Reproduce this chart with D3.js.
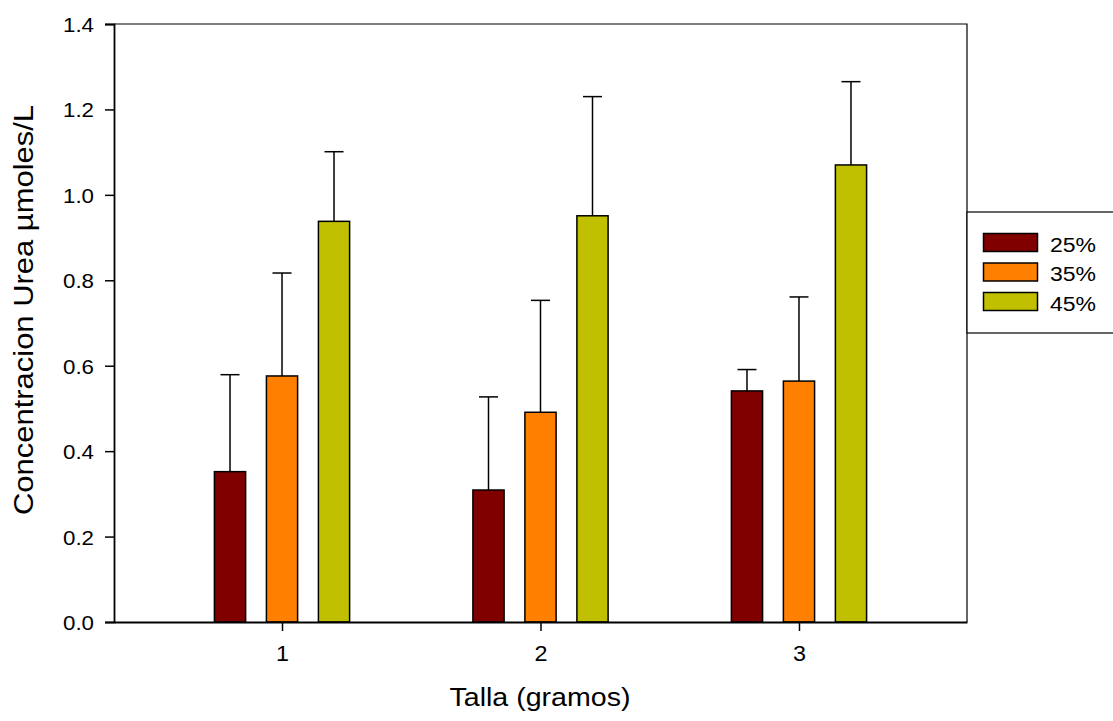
<!DOCTYPE html>
<html>
<head>
<meta charset="utf-8">
<script src="https://cdn.jsdelivr.net/npm/d3@7"></script>
<style>
  html, body { margin: 0; padding: 0; background: #fff; }
  svg { display: block; font-family: "Liberation Sans", Arial, sans-serif; }
  svg text { font-family: "Liberation Sans", Arial, sans-serif; fill: #000; }
</style>
</head>
<body>
<svg id="chart" width="1113" height="721"></svg>
<script>
// Body size groups (grams) and protein levels
const categories = [1, 2, 3];
const seriesNames = ["25%", "35%", "45%"];
const seriesColors = ["#800000", "#ff8000", "#c0c000"];

// Mean urea concentration per protein level, one value per size group
const mean25 = [0.352, 0.309, 0.541];
const mean35 = [0.576, 0.491, 0.564];
const mean45 = [0.938, 0.951, 1.070];

// Standard deviation (drawn upward only)
const sd25 = [0.227, 0.218, 0.050];
const sd35 = [0.241, 0.262, 0.197];
const sd45 = [0.163, 0.279, 0.195];

const yTicks = [0.0, 0.2, 0.4, 0.6, 0.8, 1.0, 1.2, 1.4];

const means = [mean25, mean35, mean45];
const sds = [sd25, sd35, sd45];

const svg = d3.select("#chart");
const plotLeft = 114, plotRight = 967, plotTop = 24, plotBottom = 622;

const x = d3.scaleLinear().domain([0.35, 3.65]).range([plotLeft, plotRight]);
const y = d3.scaleLinear().domain([0, 1.4]).range([plotBottom, plotTop]);
const inner = d3.scaleBand().domain(seriesNames).range([-78, 78])
  .paddingInner(0.4).paddingOuter(0.2);

// Frame (top and right sides)
svg.append("path")
  .attr("d", `M${plotLeft},${plotTop}H${plotRight}V${plotBottom}`)
  .attr("fill", "none").attr("stroke", "#000").attr("stroke-width", 1.2);

// Bars and error bars
const data = [];
seriesNames.forEach((s, si) => {
  categories.forEach((c, ci) => {
    data.push({ s, si, c, v: means[si][ci], e: sds[si][ci] });
  });
});

const capHalf = 9.5;
const g = svg.append("g");
data.forEach(d => {
  const cx = x(d.c) + inner(d.s) + inner.bandwidth() / 2;
  g.append("line")
    .attr("x1", cx).attr("x2", cx)
    .attr("y1", y(d.v)).attr("y2", y(d.v + d.e))
    .attr("stroke", "#000").attr("stroke-width", 1.5);
  g.append("line")
    .attr("x1", cx - capHalf).attr("x2", cx + capHalf)
    .attr("y1", y(d.v + d.e)).attr("y2", y(d.v + d.e))
    .attr("stroke", "#000").attr("stroke-width", 1.5);
  g.append("rect")
    .attr("x", x(d.c) + inner(d.s))
    .attr("y", y(d.v))
    .attr("width", inner.bandwidth())
    .attr("height", y(0) - y(d.v))
    .attr("fill", seriesColors[d.si])
    .attr("stroke", "#000").attr("stroke-width", 1.5);
});

// Y axis
const yAxis = svg.append("g")
  .attr("transform", `translate(${plotLeft},0)`)
  .call(d3.axisLeft(y).tickValues(yTicks).tickFormat(d3.format(".1f"))
    .tickSize(9).tickPadding(11));
yAxis.select(".domain").attr("stroke-width", 1.8);
yAxis.selectAll(".tick line").attr("stroke-width", 1.5);
yAxis.selectAll("text").style("font-size", "21px").attr("dy", "0.36em")
  .attr("textLength", 31).attr("lengthAdjust", "spacingAndGlyphs");

// X axis
const xAxis = svg.append("g")
  .attr("transform", `translate(0,${plotBottom})`)
  .call(d3.axisBottom(x).tickValues(categories).tickFormat(d3.format("d"))
    .tickSize(9).tickPadding(14).tickSizeOuter(0));
xAxis.select(".domain").attr("stroke-width", 1.8);
xAxis.selectAll(".tick line").attr("stroke-width", 1.5);
xAxis.selectAll("text").style("font-size", "22px")
  .attr("textLength", 13).attr("lengthAdjust", "spacingAndGlyphs");

// Axis titles
svg.append("text")
  .attr("x", 540).attr("y", 706)
  .attr("text-anchor", "middle")
  .style("font-size", "25px")
  .attr("textLength", 181).attr("lengthAdjust", "spacingAndGlyphs")
  .text("Talla (gramos)");

svg.append("text")
  .attr("transform", "translate(33,310) rotate(-90)")
  .attr("text-anchor", "middle")
  .style("font-size", "27px")
  .attr("textLength", 410).attr("lengthAdjust", "spacingAndGlyphs")
  .text("Concentracion Urea µmoles/L");

// Legend
const legend = svg.append("g");
legend.append("rect")
  .attr("x", 967).attr("y", 212).attr("width", 200).attr("height", 121)
  .attr("fill", "#fff").attr("stroke", "#000").attr("stroke-width", 1.2);
seriesNames.forEach((s, i) => {
  const ly = 233.5 + i * 29.5;
  legend.append("rect")
    .attr("x", 983.5).attr("y", ly).attr("width", 54).attr("height", 18)
    .attr("fill", seriesColors[i]).attr("stroke", "#000").attr("stroke-width", 1.5);
  legend.append("text")
    .attr("x", 1050).attr("y", ly + 18)
    .style("font-size", "20px")
    .attr("textLength", 46).attr("lengthAdjust", "spacingAndGlyphs")
    .text(s);
});
</script>
</body>
</html>
